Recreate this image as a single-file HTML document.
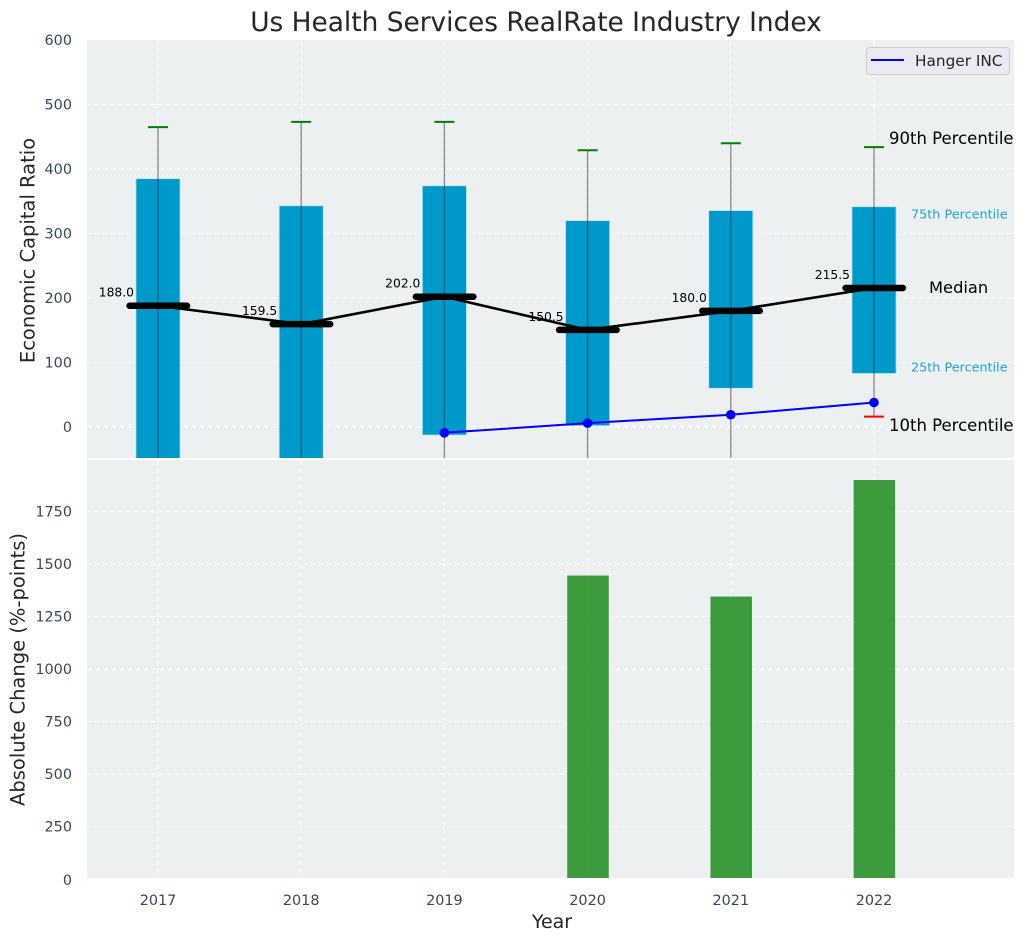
<!DOCTYPE html>
<html>
<head>
<meta charset="utf-8">
<title>Us Health Services RealRate Industry Index</title>
<style>
html,body{margin:0;padding:0;background:#fff;width:1026px;height:942px;overflow:hidden}
svg{display:block}
text{font-family:"DejaVu Sans","Liberation Sans",sans-serif}
</style>
</head>
<body>
<svg id="chart" xmlns="http://www.w3.org/2000/svg" width="1026" height="942" viewBox="0 0 1026 942">
  <rect x="0" y="0" width="1026" height="942" fill="#ffffff"/>
  <defs>
    <clipPath id="clip-top"><rect x="87" y="40" width="927" height="418"/></clipPath>
    <clipPath id="clip-bottom"><rect x="87" y="460" width="927" height="418"/></clipPath>
  </defs>
  <rect x="87" y="40" width="927" height="418" fill="#ecf0f1"/>
  <rect x="87" y="460" width="927" height="418" fill="#ecf0f1"/>
  <g id="grid-top"></g>
  <g id="grid-bottom"></g>
  <g id="marks-bottom" clip-path="url(#clip-bottom)"></g>
  <g id="marks-top" clip-path="url(#clip-top)"></g>
  <g id="labels"></g>

  <text x="536" y="31" text-anchor="middle" font-size="26.4" fill="#262626">Us Health Services RealRate Industry Index</text>
  <text transform="translate(34.500,250.500) rotate(-90)" text-anchor="middle" font-size="19.500" fill="#262626">Economic Capital Ratio</text>
  <text transform="translate(24.500,669.500) rotate(-90)" text-anchor="middle" font-size="19.500" fill="#262626">Absolute Change (%-points)</text>
  <text x="552" y="928" text-anchor="middle" font-size="19" fill="#262626">Year</text>

  <text x="889" y="144" font-size="16.500" fill="#000000">90th Percentile</text>
  <text x="911" y="218.500" font-size="12.800" fill="#1ea4d2">75th Percentile</text>
  <text x="929" y="293" font-size="16.300" fill="#000000">Median</text>
  <text x="911" y="371.500" font-size="12.800" fill="#1ea4d2">25th Percentile</text>
  <text x="889" y="431" font-size="16.500" fill="#000000">10th Percentile</text>

  <g>
    <rect x="866.500" y="47.500" width="143" height="27" rx="3" fill="#eaeaf2" stroke="#cccccc" stroke-width="1"/>
    <line x1="871" y1="60" x2="904" y2="60" stroke="#0000ff" stroke-width="2"/>
    <text x="915" y="66" font-size="15.300" fill="#262626">Hanger INC</text>
  </g>
</svg>
<script>
// Chart data
const years = [2017, 2018, 2019, 2020, 2021, 2022];
const p90 = [465, 473, 473, 429, 440, 434];
const p75 = [385, 343, 374, 320, 335.5, 341.5];
const median = [188, 159.5, 202, 150.5, 180, 215.5];
const p25 = [-85, -75, -12.5, 2, 60, 83];
const p10 = [-160, -150, -95, -90, -70, 16];
const hangerYears = [2019, 2020, 2021, 2022];
const hangerValues = [-9, 6, 19, 38];
const changeYears = [2020, 2021, 2022];
const changeValues = [1445, 1345, 1900];
const topTicks = [0, 100, 200, 300, 400, 500, 600];
const bottomTicks = [0, 250, 500, 750, 1000, 1250, 1500, 1750];

// Axis functions
const xScale = function (year) { return 158 + (year - 2017) * 143.2; };
const yTop = function (value) { return 427 - value * 0.645; };
const yBottom = function (value) { return 879 - value * 0.21; };

const NS = 'http://www.w3.org/2000/svg';
function make(parent, tag, attrs, text) {
  const el = document.createElementNS(NS, tag);
  for (const key in attrs) { el.setAttribute(key, attrs[key]); }
  if (text !== undefined) { el.textContent = text; }
  parent.appendChild(el);
  return el;
}

const gridTop = document.getElementById('grid-top');
const gridBottom = document.getElementById('grid-bottom');
const marksTop = document.getElementById('marks-top');
const marksBottom = document.getElementById('marks-bottom');
const labels = document.getElementById('labels');
const gridStyle = { stroke: '#ffffff', 'stroke-width': 1, 'stroke-dasharray': '5 3', opacity: 0.9 };

// Horizontal grid and y tick labels
topTicks.forEach(function (tick) {
  const y = yTop(tick);
  if (tick < 600) {
    const line = make(gridTop, 'line', Object.assign({ x1: 87, x2: 1014, y1: y, y2: y }, gridStyle));
    
    
  }
  const label = make(labels, 'text', { x: 72, y: y + 5, 'text-anchor': 'end', 'font-size': 14.4, fill: '#34495e' }, String(tick));
  
  
});

bottomTicks.forEach(function (tick) {
  const y = yBottom(tick);
  if (tick > 0) {
    const line = make(gridBottom, 'line', Object.assign({ x1: 87, x2: 1014, y1: y, y2: y }, gridStyle));
    
    
  }
  const label = make(labels, 'text', { x: 72, y: (tick === 0 ? y + 6 : y + 5), 'text-anchor': 'end', 'font-size': 14.4, fill: '#34495e' }, String(tick));
  
  
});

// Vertical grid and x tick labels
years.forEach(function (year) {
  const x = xScale(year);
  const lineTop = make(gridTop, 'line', Object.assign({ x1: x, x2: x, y1: 40, y2: 458 }, gridStyle));
  
  
  const lineBottom = make(gridBottom, 'line', Object.assign({ x1: x, x2: x, y1: 460, y2: 878 }, gridStyle));
  
  
  const label = make(labels, 'text', { x: x, y: 905, 'text-anchor': 'middle', 'font-size': 14.4, fill: '#34495e' }, String(year));
  
  
});

// Interquartile bars
const boxHalf = 0.154 * 143.2;
years.forEach(function (year, i) {
  const bar = make(marksTop, 'rect', {
    x: xScale(year) - boxHalf,
    y: yTop(p75[i]),
    width: boxHalf * 2,
    height: yTop(p25[i]) - yTop(p75[i]),
    fill: '#0099cc',
    stroke: '#bfe3ef',
    'stroke-width': 0.8
  });
  
  
});

// Whiskers and caps
years.forEach(function (year, i) {
  const x = xScale(year);
  const whisker = make(marksTop, 'line', { x1: x, x2: x, y1: yTop(p90[i]), y2: yTop(p10[i]), stroke: '#333333', 'stroke-width': 1.3, opacity: 0.55 });
  
  
  const capHigh = make(marksTop, 'line', { x1: x - 10, x2: x + 10, y1: yTop(p90[i]), y2: yTop(p90[i]), stroke: '#008000', 'stroke-width': 2 });
  
  
  const capLow = make(marksTop, 'line', { x1: x - 10, x2: x + 10, y1: yTop(p10[i]), y2: yTop(p10[i]), stroke: '#ff0000', 'stroke-width': 2 });
  
  
});

// Median line and thick markers
const medianPath = make(marksTop, 'polyline', {
  points: years.map(function (year, i) { return xScale(year) + ',' + yTop(median[i]); }).join(' '),
  fill: 'none',
  stroke: '#000000',
  'stroke-width': 2.6
});



years.forEach(function (year, i) {
  const x = xScale(year);
  const y = yTop(median[i]);
  const marker = make(marksTop, 'line', { x1: x - 28.5, x2: x + 29, y1: y, y2: y, stroke: '#000000', 'stroke-width': 6.5, 'stroke-linecap': 'round' });
  
  
  const value = make(labels, 'text', { x: x - 24, y: y - 9, 'text-anchor': 'end', 'font-size': 12.3, fill: '#000000' }, median[i].toFixed(1));
  
  
});

// Hanger INC series
const hangerPath = make(marksTop, 'polyline', {
  points: hangerYears.map(function (year, i) { return xScale(year) + ',' + yTop(hangerValues[i]); }).join(' '),
  fill: 'none',
  stroke: '#0000ff',
  'stroke-width': 2
});



hangerYears.forEach(function (year, i) {
  const point = make(marksTop, 'circle', { cx: xScale(year), cy: yTop(hangerValues[i]), r: 4.8, fill: '#0000ff' });
  
  
});

// Absolute change bars
const changeHalf = 0.145 * 143.2;
changeYears.forEach(function (year, i) {
  const bar = make(marksBottom, 'rect', {
    x: xScale(year) + 0.4 - changeHalf,
    y: yBottom(changeValues[i]),
    width: changeHalf * 2,
    height: yBottom(0) - yBottom(changeValues[i]),
    fill: '#2e962f',
    'fill-opacity': 0.93
  });
  
  
});
</script>
</body>
</html>
